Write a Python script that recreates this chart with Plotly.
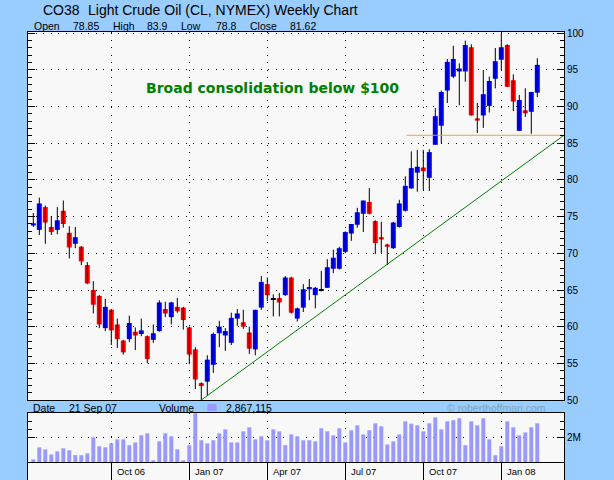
import plotly.graph_objects as go

# weekly bars, index 0 = week of 7 Jul 06
weeks = list(range(85))
opens = [73.8, 73.2, 76.3, 73.6, 73.2, 75.8, 72.8, 71.3, 70.9, 68.4,
         65.0, 64.2, 59.8, 62.3, 60.3, 58.1, 58.3, 59.3, 59.0, 58.7,
         58.2, 59.4, 62.4, 61.3, 62.7, 62.6, 59.9, 56.9, 52.3, 52.5,
         54.8, 59.1, 58.8, 57.8, 61.1, 60.6, 59.2, 56.9, 62.6, 65.8,
         63.7, 63.9, 64.3, 66.7, 61.1, 62.6, 65.1, 64.3, 64.9, 65.3,
         67.9, 67.9, 70.2, 72.7, 73.9, 75.4, 77.0, 74.4, 72.2, 71.2,
         70.7, 73.6, 75.8, 78.85, 81.0, 81.7, 80.3, 84.8, 87.4, 92.2,
         94.1, 94.8, 94.8, 98.1, 88.4, 88.8, 90.1, 93.8, 96.4, 98.4,
         93.6, 86.7, 89.5, 89.3, 91.9]
highs = [75.5, 77.6, 76.5, 75.1, 76.3, 77.2, 73.7, 73.6, 71.0, 68.8,
         66.2, 64.3, 63.8, 62.4, 61.1, 58.2, 61.5, 59.9, 61.1, 58.8,
         60.3, 63.6, 63.4, 63.4, 63.9, 62.7, 60.0, 57.2, 52.4, 56.1,
         59.2, 60.8, 59.8, 61.9, 62.4, 62.3, 60.0, 62.3, 66.9, 66.7,
         64.4, 64.6, 66.9, 66.8, 62.6, 65.8, 66.5, 65.4, 67.6, 69.2,
         70.5, 70.9, 73.0, 74.0, 76.2, 77.2, 78.9, 74.5, 74.3, 71.3,
         74.3, 77.3, 80.5, 83.9, 84.1, 84.1, 84.2, 89.8, 92.2, 96.5,
         98.3, 95.9, 99.0, 98.5, 90.5, 95.0, 94.1, 98.0, 100.0, 98.5,
         94.4, 91.6, 92.5, 92.0, 96.6]
lows = [73.6, 72.5, 71.3, 72.5, 72.6, 73.5, 69.3, 70.7, 68.4, 65.8,
        61.8, 59.8, 59.4, 57.5, 57.1, 56.2, 57.9, 56.8, 58.7, 55.0,
        57.8, 59.3, 61.3, 60.3, 61.9, 59.6, 54.9, 51.5, 49.9, 50.6,
        53.7, 57.2, 56.7, 57.5, 60.1, 59.7, 56.3, 56.1, 62.3, 63.5,
        61.4, 61.4, 64.2, 61.8, 60.7, 62.0, 63.6, 62.5, 64.8, 65.3,
        67.3, 67.8, 70.0, 71.7, 73.5, 72.9, 75.3, 69.9, 70.0, 68.4,
        70.6, 73.5, 75.7, 78.8, 78.4, 78.6, 78.5, 84.8, 85.0, 90.5,
        93.9, 90.2, 93.4, 88.8, 86.4, 87.1, 89.2, 92.5, 95.0, 92.7,
        89.4, 86.7, 88.6, 86.3, 91.3]
closes = [74.1, 76.8, 74.2, 72.9, 74.5, 74.0, 70.8, 72.2, 68.9, 65.9,
          63.0, 60.3, 62.7, 59.5, 58.3, 56.5, 60.5, 58.8, 59.5, 55.6,
          59.1, 63.3, 61.8, 63.3, 62.1, 60.9, 56.2, 52.8, 51.9, 55.5,
          59.0, 60.0, 59.4, 61.2, 61.8, 60.0, 57.0, 62.3, 66.1, 64.3,
          63.7, 63.3, 66.7, 61.9, 62.5, 65.1, 65.4, 65.3, 64.9, 68.1,
          69.4, 70.7, 72.9, 74.0, 75.6, 77.2, 75.4, 71.4, 71.9, 70.9,
          74.2, 76.8, 79.2, 81.62, 81.8, 81.2, 83.8, 88.7, 92.0, 96.1,
          96.5, 95.2, 98.4, 88.8, 88.1, 91.7, 93.5, 96.2, 98.1, 92.7,
          90.7, 90.9, 89.1, 92.0, 95.7]
# volume in millions of contracts
volume_m = [0.55, 1.33, 1.20, 0.87, 1.07, 1.27, 1.14, 0.83, 0.82, 0.94,
            1.98, 1.40, 1.33, 1.59, 1.85, 1.85, 1.47, 1.65, 2.11, 2.24,
            0.49, 1.72, 2.24, 2.05, 1.20, 0.49, 1.47, 3.55, 1.79, 1.59,
            1.79, 2.24, 2.50, 1.65, 1.65, 2.37, 2.63, 1.85, 2.05, 1.79,
            2.50, 2.37, 1.47, 2.17, 2.05, 1.79, 1.79, 1.72, 2.57, 2.37,
            2.11, 2.57, 1.65, 2.44, 2.76, 2.17, 2.44, 2.89, 2.70, 1.52,
            1.72, 2.17, 3.02, 2.867, 2.76, 2.37, 2.89, 3.28, 2.50, 3.02,
            3.09, 3.22, 1.47, 3.02, 2.76, 3.22, 1.85, 0.82, 1.40, 3.02,
            2.63, 2.11, 2.30, 2.63, 2.89]

quarter_weeks = [13, 26, 39, 52, 65, 78]
quarter_labels = ["Oct 06", "Jan 07", "Apr 07", "Jul 07", "Oct 07", "Jan 08"]
price_ticks = [50, 55, 60, 65, 70, 75, 80, 85, 90, 95, 100]

sel = 63
sel_date = "21 Sep 07"
sel_volume = "2,867,115"

trend_x = [28, 88.45]
trend_y = [50.0, 86.1]
support_x = [62.2, 88.45]
support_y = [86.1, 86.1]

BLUE_BG = "#99CCFF"
PLOT_BG = "#F8F8F8"
FONT = "Liberation Sans, Arial, sans-serif"

# wicks
wx, wy = [], []
for w, lo, hi in zip(weeks, lows, highs):
    wx += [w, w, None]
    wy += [lo, hi, None]

body_base = [min(o, c) for o, c in zip(opens, closes)]
body_h = [max(abs(c - o), 0.13) for o, c in zip(opens, closes)]
body_col = ["#0000FF" if c > o else ("#FF0000" if c < o else "#000000")
            for o, c in zip(opens, closes)]

fig = go.Figure()
fig.add_trace(go.Scatter(x=wx, y=wy, mode="lines", line=dict(color="black", width=1),
                         xaxis="x", yaxis="y", hoverinfo="skip"))
fig.add_trace(go.Bar(x=weeks, y=body_h, base=body_base, width=0.83,
                     marker=dict(color=body_col, line=dict(width=0)),
                     xaxis="x", yaxis="y"))
fig.add_trace(go.Scatter(x=trend_x, y=trend_y, mode="lines",
                         line=dict(color="#008000", width=1), xaxis="x", yaxis="y"))
fig.add_trace(go.Scatter(x=support_x, y=support_y, mode="lines",
                         line=dict(color="#E8A040", width=1), xaxis="x", yaxis="y"))
fig.add_trace(go.Bar(x=weeks, y=volume_m, width=0.66,
                     marker=dict(color="#9999FF", line=dict(width=0)),
                     xaxis="x2", yaxis="y2"))
fig.add_trace(go.Scatter(x=[None], y=[None], xaxis="x3", yaxis="y3"))

xr = [-0.883, 88.45]
grid_dot = "1px,6.5px"
xcommon = dict(range=xr, tickvals=quarter_weeks, showticklabels=False, ticks="",
               showgrid=True, gridcolor="black", gridwidth=1, zeroline=False,
               showline=True, linecolor="black", linewidth=1, mirror=True,
               automargin=False)

def px(x):
    return (x - 28) / 536

def py(y):
    return (480 - y) / 448

annotations = []
def txt(s, x, y, size=10.5, color="black", family=FONT):
    annotations.append(dict(text=s, x=px(x), y=py(y), xref="paper", yref="paper",
                            xanchor="left", yanchor="middle", showarrow=False,
                            font=dict(size=size, color=color, family=family)))

txt("CO38", 41, 10, 14)
txt("Light Crude Oil (CL, NYMEX) Weekly Chart", 85.5, 10, 14)
header = [("Open", 32), (f"{opens[sel]:g}", 71), ("High", 111), (f"{highs[sel]:g}", 145),
          ("Low", 179), (f"{lows[sel]:g}", 214), ("Close", 248), (f"{closes[sel]:g}", 288)]
for s, x in header:
    txt(s, x, 26.5)
txt("Date", 31, 407.5)
txt(sel_date, 66.5, 407.5)
txt("Volume", 157, 407.5)
txt(sel_volume, 224, 407.5)
txt("\u00a9 roberthoffman.com", 444.5, 407.5, 10.5, "#7AA6B8")

for q, lab in zip(quarter_weeks, quarter_labels):
    annotations.append(dict(text=lab, x=q, y=0.5, xref="x3", yref="y3 domain",
                            xanchor="left", yanchor="middle", xshift=4, showarrow=False,
                            font=dict(size=9.5, color="black", family=FONT)))

annotations.append(dict(text="<b>Broad consolidation below $100</b>", x=39.8, y=92.5,
                        xref="x", yref="y", showarrow=False,
                        font=dict(size=14, color="#008000", family="DejaVu Sans")))

fig.update_layout(
    template="none",
    width=614, height=480, autosize=False,
    margin=dict(l=28, r=50, t=32, b=0, pad=0, autoexpand=False),
    paper_bgcolor=BLUE_BG, plot_bgcolor=PLOT_BG,
    showlegend=False, barmode="overlay",
    font=dict(family=FONT, size=10, color="black"),
    xaxis=dict(anchor="y", griddash=grid_dot, **xcommon),
    xaxis2=dict(anchor="y2", matches="x", griddash=grid_dot, **xcommon),
    xaxis3=dict(anchor="y3", matches="x", griddash="solid",
                **{k: v for k, v in xcommon.items() if k not in ("showline", "mirror")},
                ),
    yaxis=dict(domain=[80 / 448, 1], range=[50, 100.18], side="right",
               tickvals=price_ticks, ticks="inside", ticklen=7, tickcolor="black",
               showline=True, linecolor="black", linewidth=1, mirror="ticks",
               showgrid=True, gridcolor="black", griddash=grid_dot, zeroline=False,
               automargin=False,
               minor=dict(dtick=1, tick0=0, ticks="inside", ticklen=4,
                          tickcolor="black", showgrid=False),
               tickfont=dict(size=10, family=FONT)),
    yaxis2=dict(domain=[18 / 448, 67 / 448], range=[0.38, 3.56], side="right",
                tickvals=[2], ticktext=["2M"], ticks="inside", ticklen=7,
                tickcolor="black", showline=True, linecolor="black", linewidth=1,
                mirror="ticks", showgrid=True, gridcolor="black", griddash=grid_dot,
                zeroline=False, automargin=False,
                minor=dict(tickmode="array", tickvals=[2.5, 3.0], ticks="inside",
                           ticklen=4, tickcolor="black", showgrid=False),
                tickfont=dict(size=10, family=FONT)),
    yaxis3=dict(domain=[0, 18 / 448], range=[0, 1], showticklabels=False, ticks="",
                showgrid=False, zeroline=False, showline=True, linecolor="black",
                linewidth=1, mirror=True, automargin=False),
    annotations=annotations,
    shapes=[dict(type="rect", xref="paper", yref="paper", x0=px(207.5), x1=px(216.5),
                 y0=py(411), y1=py(404), fillcolor="#9999FF", line=dict(width=0))],
)

# the page body has an 8px default margin; remove it so the chart fills the window
fig.write_html("out.html", config={"displayModeBar": False},
               post_script="document.body.style.margin='0';")
